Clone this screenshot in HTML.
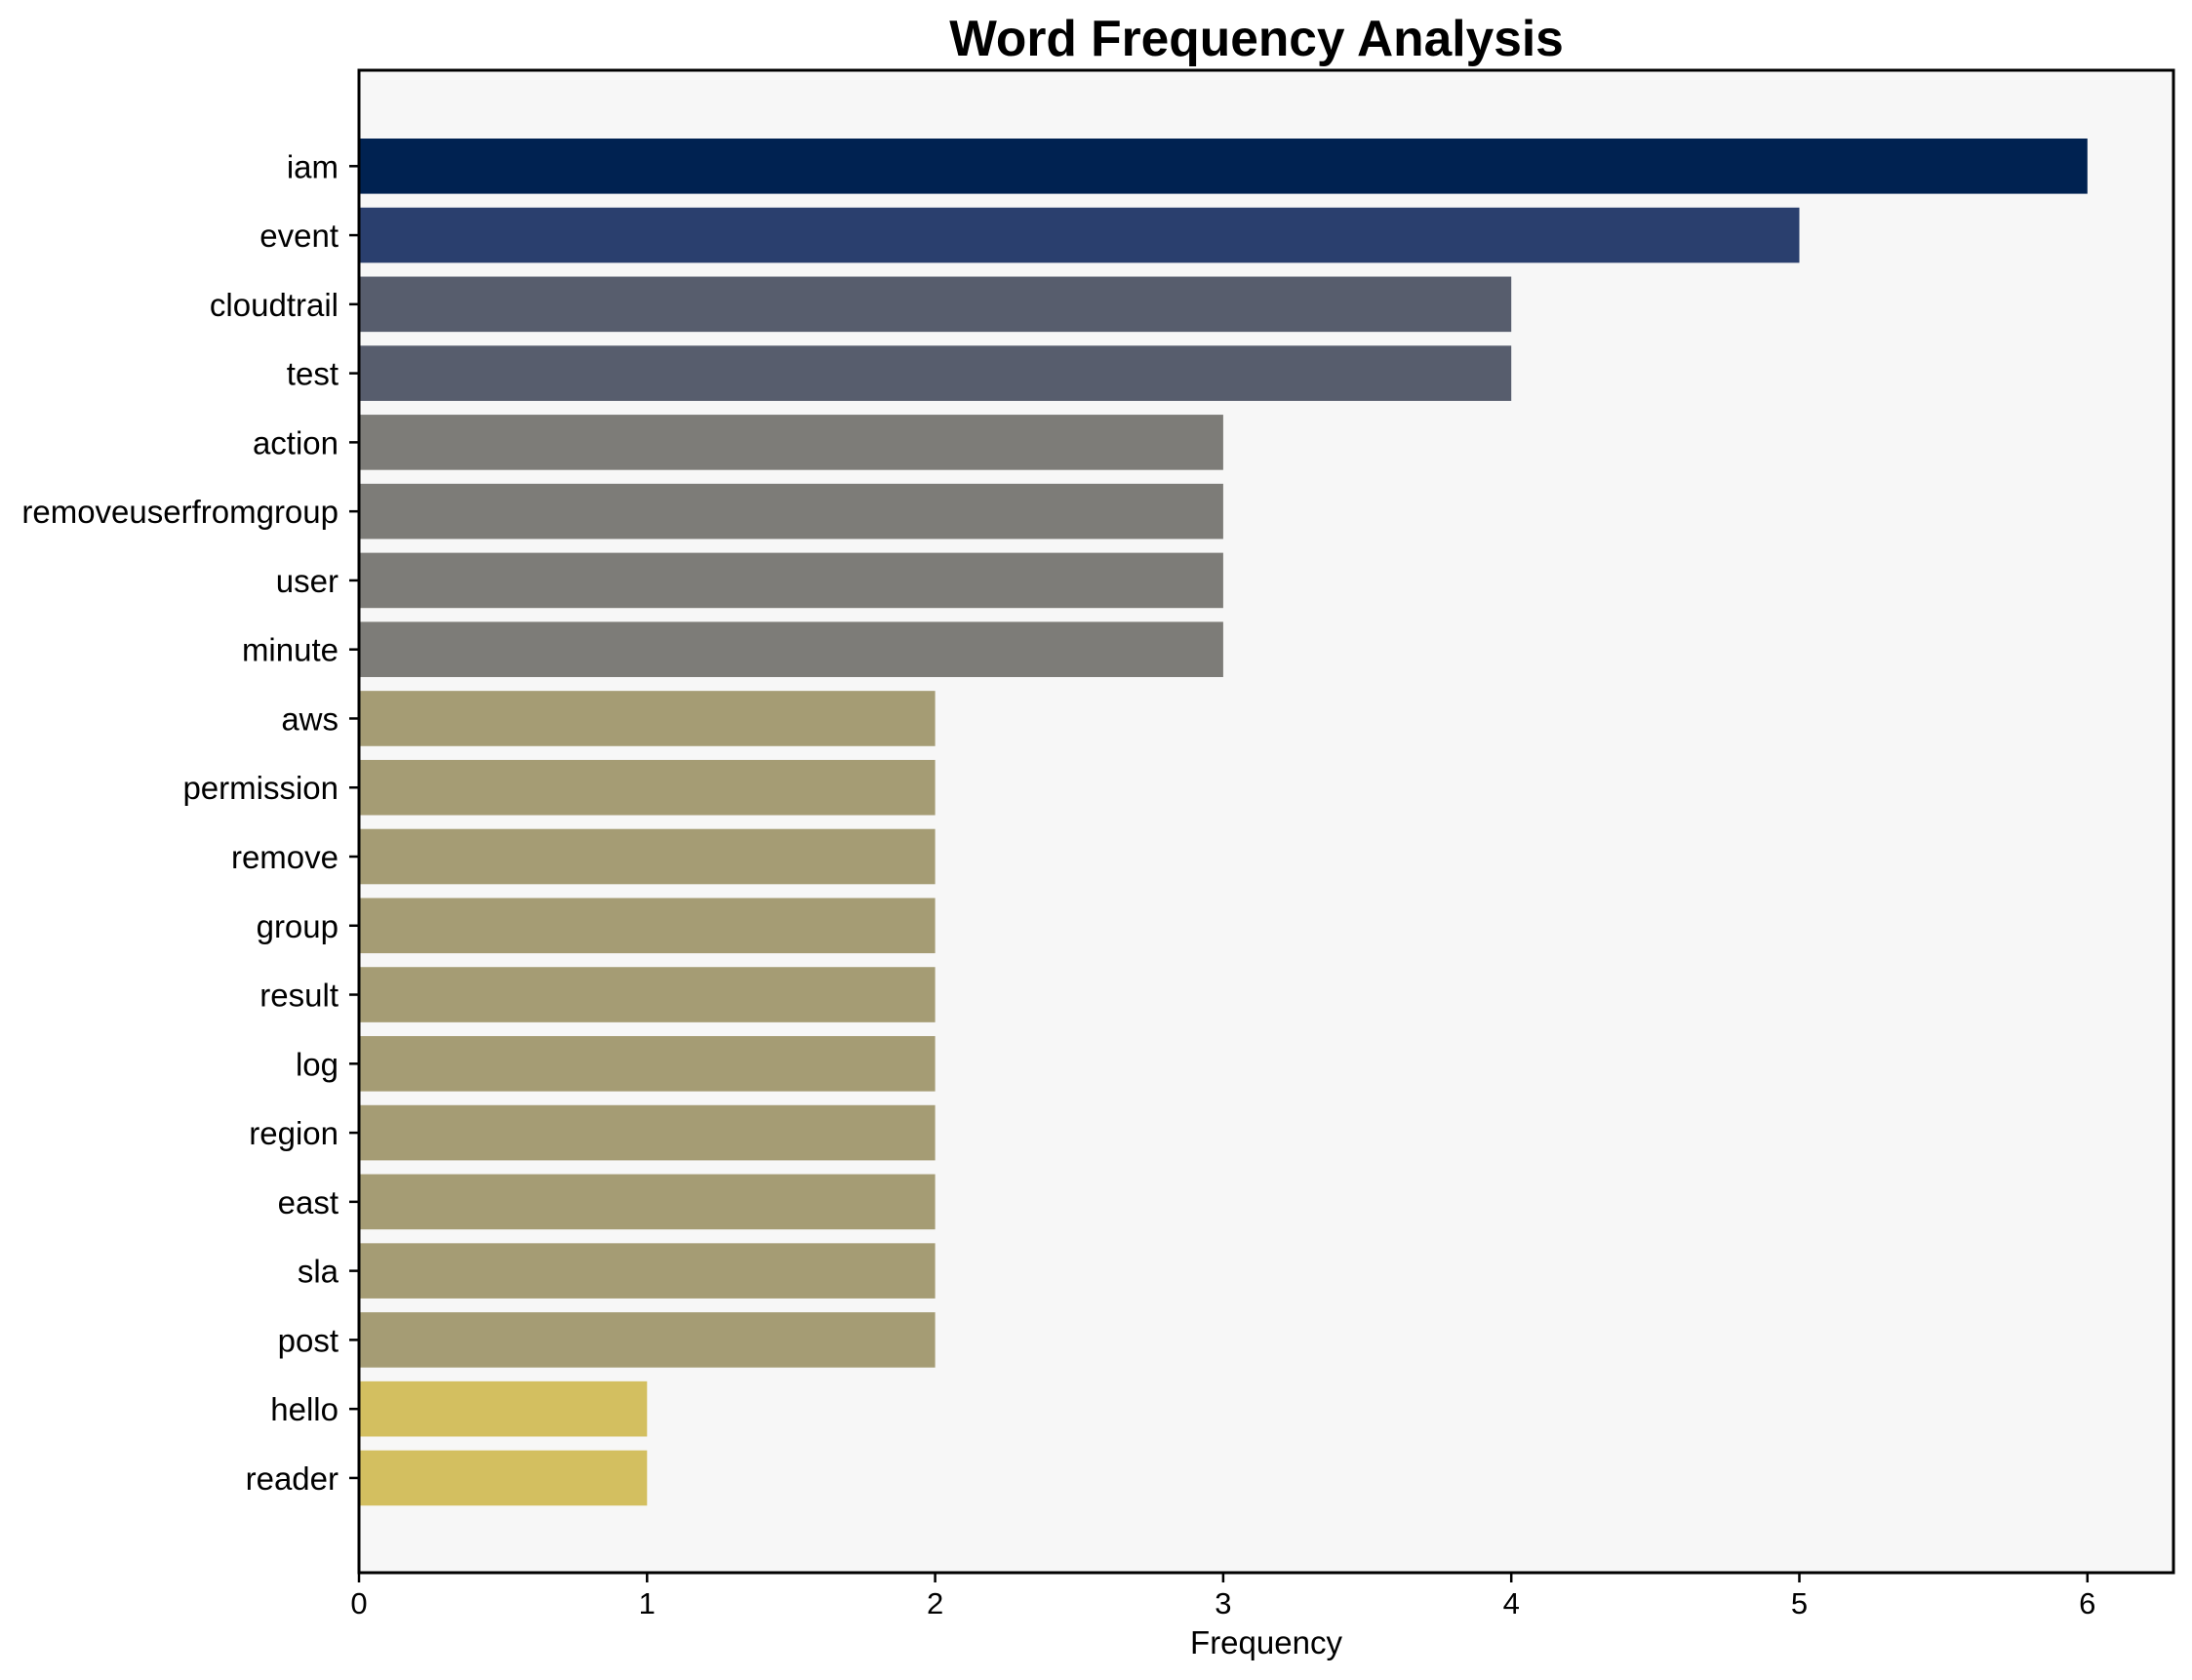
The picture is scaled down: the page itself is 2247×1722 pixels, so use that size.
<!DOCTYPE html>
<html><head><meta charset="utf-8"><style>
html,body{margin:0;padding:0;background:#fff}
svg{display:block}
text{font-family:"Liberation Sans",Arial,sans-serif;fill:#000}
</style></head><body>
<svg width="2247" height="1722" viewBox="0 0 2247 1722" xmlns="http://www.w3.org/2000/svg">
<rect x="0" y="0" width="2247" height="1722" fill="#fff"/>
<rect x="368" y="72" width="1860" height="1540" fill="#f7f7f7"/>
<g id="bars"></g>
<text x="1288" y="57" font-size="51.5" font-weight="bold" text-anchor="middle">Word Frequency Analysis</text>
<g font-size="33" text-anchor="end" id="ylabels"></g>
<g font-size="31" text-anchor="middle" id="xlabels"></g>
<text x="1298" y="1695" font-size="33" text-anchor="middle">Frequency</text>
<rect x="368" y="72" width="1860" height="1540" fill="none" stroke="#000" stroke-width="3"/>
<script>
var d=[["iam",6,"#002251"],["event",5,"#2a3f6e"],["cloudtrail",4,"#575d6d"],["test",4,"#575d6d"],["action",3,"#7d7c78"],["removeuserfromgroup",3,"#7d7c78"],["user",3,"#7d7c78"],["minute",3,"#7d7c78"],["aws",2,"#a59c74"],["permission",2,"#a59c74"],["remove",2,"#a59c74"],["group",2,"#a59c74"],["result",2,"#a59c74"],["log",2,"#a59c74"],["region",2,"#a59c74"],["east",2,"#a59c74"],["sla",2,"#a59c74"],["post",2,"#a59c74"],["hello",1,"#d3bf60"],["reader",1,"#d3bf60"]];
var ns="http://www.w3.org/2000/svg",b=document.getElementById("bars"),yl=document.getElementById("ylabels"),xl=document.getElementById("xlabels"),s=document.querySelector("svg");
function el(t,a,p,txt){var e=document.createElementNS(ns,t);for(var k in a)e.setAttribute(k,a[k]);if(txt!=null)e.textContent=txt;p.appendChild(e);return e;}
var u=295.3;
d.forEach(function(r,i){var c=170.3+i*70.77;
el("rect",{x:368,y:c-28.3,width:r[1]*u,height:56.6,fill:r[2]},b);
el("line",{x1:358,y1:c,x2:368,y2:c,stroke:"#000","stroke-width":2.5},s);
el("text",{x:347,y:c+12},yl,r[0]);});
for(var v=0;v<=6;v++){var x=368+v*u;
el("line",{x1:x,y1:1612,x2:x,y2:1622,stroke:"#000","stroke-width":2.5},s);
el("text",{x:x,y:1654},xl,String(v));}
</script>
</svg>
</body></html>
